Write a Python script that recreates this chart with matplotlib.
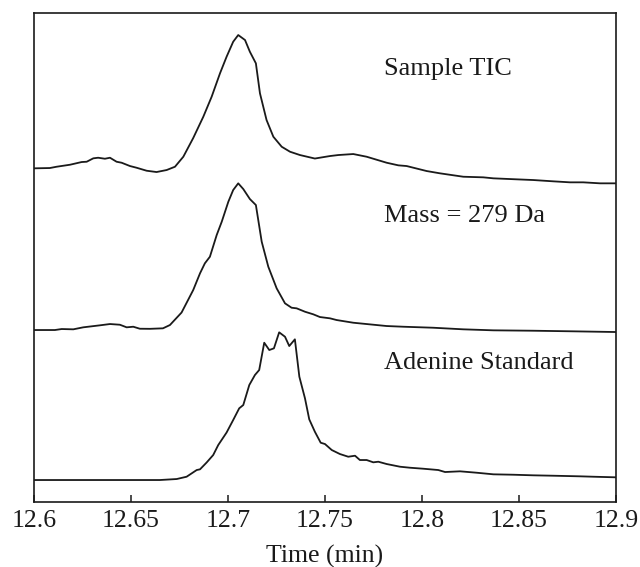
import numpy as np
import matplotlib
matplotlib.use("Agg")
import matplotlib.pyplot as plt

# chromatogram traces (time in min, intensity in arbitrary units)
tic_time = [12.6000, 12.6082, 12.6117, 12.6186, 12.6246, 12.6272, 12.6306, 12.6331,
            12.6366, 12.6392, 12.6426, 12.6452, 12.6495, 12.6529, 12.6581, 12.6632,
            12.6684, 12.6727, 12.6770, 12.6821, 12.6873, 12.6916, 12.6959, 12.6993,
            12.7027, 12.7053, 12.7088, 12.7113, 12.7144, 12.7165, 12.7199, 12.7234,
            12.7277, 12.7320, 12.7371, 12.7448, 12.7526, 12.7569, 12.7646, 12.7715,
            12.7818, 12.7878, 12.7921, 12.8024, 12.8093, 12.8213, 12.8316, 12.8368,
            12.8488, 12.8574, 12.8677, 12.8763, 12.8831, 12.8918, 12.9000]
tic_int = [15.7, 16.0, 17.3, 19.3, 22.0, 22.3, 25.7, 26.3,
           25.3, 26.3, 22.3, 21.3, 18.0, 16.3, 13.3, 12.0,
           14.0, 17.3, 27.3, 46.0, 67.3, 87.3, 110.7, 127.3,
           142.3, 149.0, 144.0, 132.3, 120.7, 90.7, 64.0, 47.3,
           37.3, 32.3, 29.0, 25.5, 28.0, 29.0, 30.0, 27.3,
           21.3, 18.7, 18.0, 13.0, 10.7, 7.3, 6.7, 5.7,
           4.7, 4.0, 2.7, 1.7, 1.7, 0.7, 0.7]

mass_time = [12.6000, 12.6108, 12.6143, 12.6203, 12.6254, 12.6340, 12.6392, 12.6443,
             12.6478, 12.6512, 12.6546, 12.6598, 12.6665, 12.6701, 12.6761, 12.6821,
             12.6856, 12.6881, 12.6907, 12.6942, 12.6968, 12.7002, 12.7027, 12.7053,
             12.7079, 12.7113, 12.7144, 12.7174, 12.7208, 12.7251, 12.7294, 12.7328,
             12.7354, 12.7397, 12.7440, 12.7474, 12.7526, 12.7560, 12.7646, 12.7818,
             12.7904, 12.8058, 12.8213, 12.8368, 12.8574, 12.8780, 12.9000]
mass_int = [2.0, 2.0, 3.0, 2.7, 4.7, 6.7, 8.0, 7.3,
            4.7, 5.3, 3.3, 3.2, 3.7, 7.0, 19.5, 42.0,
            58.7, 68.7, 75.3, 97.0, 110.3, 130.3, 142.0, 148.7,
            143.0, 133.0, 127.0, 90.3, 65.3, 43.7, 28.7, 24.3,
            23.7, 20.3, 17.7, 15.0, 13.7, 12.0, 9.3, 6.0,
            5.3, 4.3, 2.7, 1.7, 1.3, 0.7, 0.0]

std_time = [12.6000, 12.6340, 12.6649, 12.6736, 12.6787, 12.6839, 12.6856, 12.6890,
            12.6924, 12.6950, 12.6993, 12.7027, 12.7058, 12.7079, 12.7110, 12.7139,
            12.7161, 12.7187, 12.7213, 12.7237, 12.7264, 12.7294, 12.7316, 12.7345,
            12.7368, 12.7397, 12.7419, 12.7448, 12.7478, 12.7500, 12.7535, 12.7577,
            12.7620, 12.7655, 12.7680, 12.7715, 12.7749, 12.7775, 12.7818, 12.7887,
            12.7938, 12.8007, 12.8084, 12.8119, 12.8196, 12.8282, 12.8368, 12.8471,
            12.8574, 12.8677, 12.8814, 12.8883, 12.9000]
std_int = [0.0, 0.0, 0.0, 1.0, 3.3, 10.0, 10.7, 17.5,
           25.0, 35.0, 47.5, 60.0, 71.7, 75.0, 95.0, 105.0,
           110.0, 137.3, 130.0, 131.7, 147.7, 143.3, 134.0, 140.7,
           103.3, 81.7, 60.7, 48.3, 37.3, 36.0, 30.0, 26.0,
           23.3, 24.3, 20.0, 20.0, 17.7, 18.3, 16.0, 13.3,
           12.3, 11.3, 10.0, 8.0, 8.7, 7.3, 5.7, 5.3,
           4.7, 4.3, 3.7, 3.3, 2.7]

labels = ['Sample TIC', 'Mass = 279 Da', 'Adenine Standard']
offsets = [318, 170, 22]   # vertical stacking of the traces
xticks = [12.6, 12.65, 12.7, 12.75, 12.8, 12.85, 12.9]

plt.rcParams['font.family'] = ['Liberation Serif', 'DejaVu Serif']

fig = plt.figure(figsize=(6.4, 5.67), dpi=100)
ax = fig.add_axes([0.053, 0.1146, 0.9095, 0.8624])

ink = '#1a1a1a'
traces = [(tic_time, tic_int), (mass_time, mass_int), (std_time, std_int)]
for (t, y), off in zip(traces, offsets):
    ax.plot(t, np.array(y) + off, color=ink, lw=1.3)

# labels sit a bit above each trace's baseline
label_y = [433, 286, 139]
for txt, ly in zip(labels, label_y):
    ax.text(12.7803, ly, txt, fontsize=19, color=ink, va='center', ha='left')

ax.set_xlim(12.6, 12.9)
ax.set_ylim(0, 489)
ax.set_xticks(xticks)
ax.set_xticklabels([f'{v:g}' for v in xticks])
ax.set_yticks([])
ax.tick_params(axis='x', direction='in', length=5, width=1.1, labelsize=18.5,
               pad=6, colors=ink)
for s in ax.spines.values():
    s.set_color(ink)
    s.set_linewidth(1.2)
ax.set_xlabel('Time (min)', fontsize=18.5, color=ink, labelpad=9)

fig.savefig('out.png', dpi=100)
